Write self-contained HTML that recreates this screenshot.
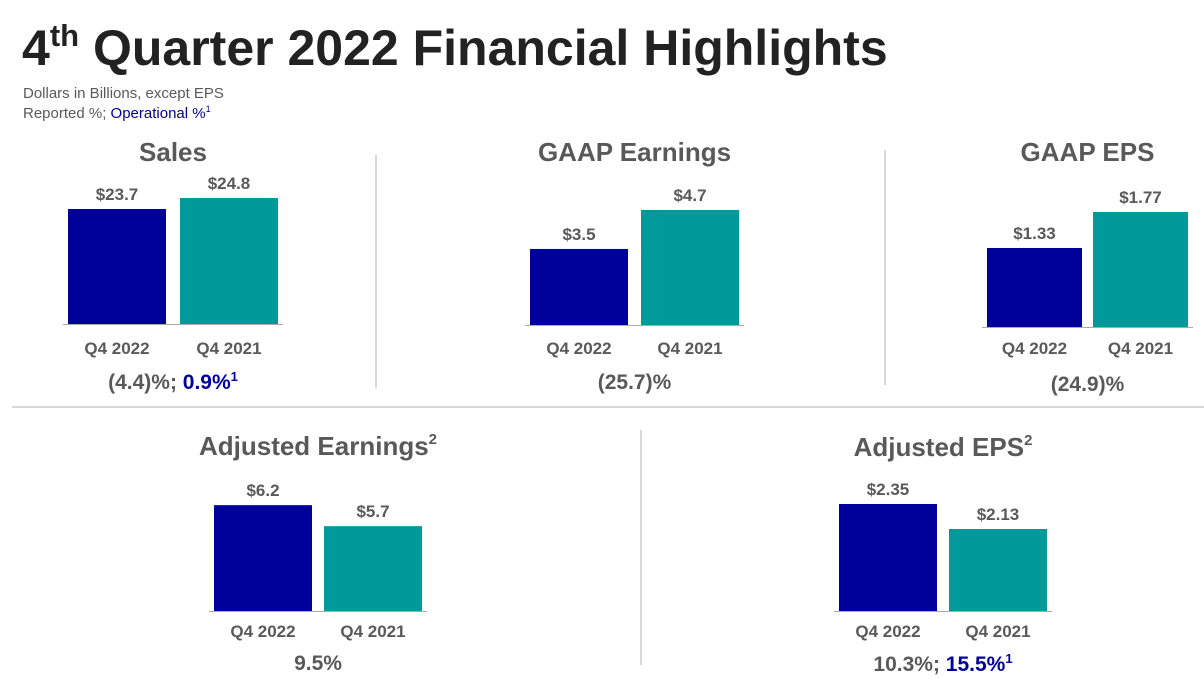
<!DOCTYPE html>
<html><head><meta charset="utf-8"><style>
body{margin:0;width:1204px;height:683px;overflow:hidden;background:#fff;font-family:"Liberation Sans",sans-serif;position:relative}
.a{position:absolute;white-space:nowrap}
</style></head><body>
<div class="a" style="left:22px;top:19px;font-size:50px;font-weight:bold;color:#222">4<sup style="font-size:31px;vertical-align:19px;line-height:0">th</sup> Quarter 2022 Financial Highlights</div>
<div class="a" style="left:23px;top:85px;font-size:15px;color:#595959">Dollars in Billions, except EPS</div>
<div class="a" style="left:23px;top:104px;font-size:15px;color:#595959">Reported %; <span style="color:#00009a">Operational %<sup style="font-size:9px">1</sup></span></div>
<svg id="c" width="1204" height="683" style="position:absolute;left:0;top:0"></svg>
<script>
const categories=["Q4 2022","Q4 2021"];
const titles=["Sales","GAAP Earnings","GAAP EPS","Adjusted Earnings","Adjusted EPS"];
const salesVals=[23.7,24.8];
const gaapVals=[3.5,4.7];
const gaapEpsVals=[1.33,1.77];
const adjVals=[6.2,5.7];
const adjEpsVals=[2.35,2.13];
const valueLabels=[["$23.7","$24.8"],["$3.5","$4.7"],["$1.33","$1.77"],["$6.2","$5.7"],["$2.35","$2.13"]];
const changeLabels=[["(4.4)%; ","0.9%"],["(25.7)%",""],["(24.9)%",""],["9.5%",""],["10.3%; ","15.5%"]];
const series=[salesVals,gaapVals,gaapEpsVals,adjVals,adjEpsVals];
const panels=[
 {x0:68,bw:98,gap:14,base:324,a:10,m:12.2,ty:152,cy:348,py:381},
 {x0:530,bw:98,gap:13,base:325,a:32.5,m:1.16,ty:152,cy:348,py:381},
 {x0:987,bw:95,gap:11,base:327,a:81.8,m:0.364,ty:152,cy:348,py:383},
 {x0:214,bw:98,gap:12,base:611,a:42,m:3.68,ty:446,cy:631,py:662},
 {x0:839,bw:98,gap:12,base:611,a:113.6,m:1.408,ty:447,cy:631,py:663}
];
const colors=["#00009a","#009a9a"];
const svg=document.getElementById('c');const NS='http://www.w3.org/2000/svg';
function mk(t,at,txt,parent){const e=document.createElementNS(NS,t);for(const k in at)e.setAttribute(k,at[k]);if(txt!==undefined)e.textContent=txt;(parent||svg).appendChild(e);return e;}
[[376,155,376,388],[885,150,885,385],[12,407,1204,407],[641,430,641,665]].forEach(l=>{
 const e=mk('line',{x1:l[0],y1:l[1],x2:l[2],y2:l[3],stroke:'#ccc','stroke-width':1.5});
 
 
});
panels.forEach((p,i)=>{
 const yv=v=>p.base-p.a*(v-p.m);
 const w=2*p.bw+p.gap,cx=p.x0+w/2;
 const t=mk('text',{x:cx,y:p.ty+9,'text-anchor':'middle','font-size':26,'font-weight':'bold',fill:'#595959'});
 
 
 mk('tspan',{},titles[i],t);
 if(i>=3){mk('tspan',{'font-size':15,dy:-11},'2',t);}
 series[i].forEach((v,j)=>{
  const x=p.x0+j*(p.bw+p.gap),y=yv(v);
  const r=mk('rect',{x:x,y:y,width:p.bw,height:p.base-y,fill:colors[j]});
  
  
  const l=mk('text',{x:x+p.bw/2,y:y-9,'text-anchor':'middle','font-size':17,'font-weight':'bold',fill:'#595959'},valueLabels[i][j]);
  
  
  const c=mk('text',{x:x+p.bw/2,y:p.cy+6,'text-anchor':'middle','font-size':17,'font-weight':'bold',fill:'#595959'},categories[j]);
  
  
 });
 const ax=mk('line',{x1:p.x0-5,y1:p.base+0.5,x2:p.x0+w+5,y2:p.base+0.5,stroke:'#aaa','stroke-width':1});
 
 
 const pc=mk('text',{x:cx,y:p.py+8,'text-anchor':'middle','font-size':21,'font-weight':'bold',fill:'#595959'});
 
 
 mk('tspan',{},changeLabels[i][0],pc);
 if(changeLabels[i][1]){
  mk('tspan',{fill:'#00009a'},changeLabels[i][1],pc);
  mk('tspan',{fill:'#00009a','font-size':13,dy:-8},'1',pc);
 }
});
</script>
</body></html>
